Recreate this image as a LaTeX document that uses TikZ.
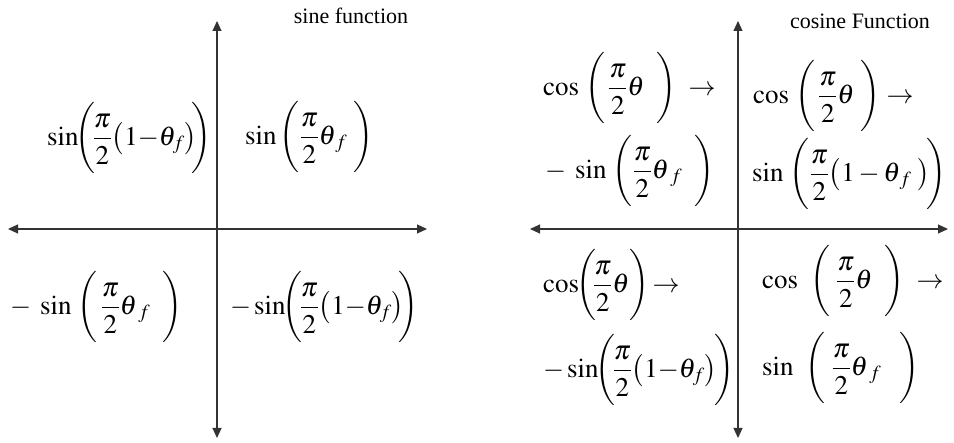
\documentclass[tikz,border=0pt]{standalone}
\usepackage{mathptmx}
\usepackage{graphicx}
\usepackage[no-math]{fontspec}
\setmainfont{Liberation Serif}
\usetikzlibrary{arrows.meta}
\newcommand\mylp{\mathopen{\scalebox{1}[1.1]{$\displaystyle\biggl($}}}
\newcommand\myrp{\mathclose{\scalebox{1}[1.1]{$\displaystyle\biggr)$}}}
\newcommand\mysl{\bigl(}
\newcommand\mysr{\bigr)}
\newcommand\mym{\mathord{-}}
\tikzset{
 axis/.style={line width=1.1pt, draw=black!80, {Triangle[length=10pt,width=9pt]}-{Triangle[length=10pt,width=9pt]}},
 fml/.style={inner sep=0pt, anchor=west, text height=32pt, text depth=19pt, font=\fontsize{27}{32}\selectfont},
 ttl/.style={inner sep=0pt, font=\fontsize{22}{26}\selectfont},
}
\begin{document}
\begin{tikzpicture}[x=1pt,y=-1pt]
\useasboundingbox (0,0) rectangle (954,443);
% left axes
\coordinate (LT) at (217,21);
\coordinate (LB) at (217,438);
\coordinate (LL) at (8,229);
\coordinate (LR) at (427,229);
\draw[axis] (LT) -- (LB);
\draw[axis] (LL) -- (LR);
% right axes
\coordinate (RT) at (738,21);
\coordinate (RB) at (738,438);
\coordinate (RL) at (530,229);
\coordinate (RR) at (948,229);
\draw[axis] (RT) -- (RB);
\draw[axis] (RL) -- (RR);
% titles
\node[ttl] (sinT) at (351,16) {sine function};
\node[ttl] (cosT) at (860,21) {cosine Function};
% sine quadrants
\node[fml] (s1) at (245,138) {$\displaystyle \sin\,\mylp\frac{\pi}{2}\theta_{\,f}\;\myrp$};
\node[fml] (s2) at (47,139) {$\displaystyle \sin\!\mylp\!\frac{\pi}{2}\mysl 1\mym\theta_f\mysr\!\!\myrp$};
\node[fml] (s3) at (10,308) {$\displaystyle -\;\sin\;\mylp\,\frac{\pi}{2}\theta_{\;f}\;\;\myrp$};
\node[fml] (s4) at (230,308) {$\displaystyle \mym\sin\!\mylp\!\frac{\pi}{2}\mysl 1\mym\theta_f\mysr\!\!\myrp$};
% cosine quadrants
\node[fml] (c2a) at (543,89) {$\displaystyle \cos\;\mylp\,\frac{\pi}{2}\theta\;\;\myrp\;\rightarrow$};
\node[fml] (c2b) at (545,172) {$\displaystyle -\;\sin\;\mylp\frac{\pi}{2}\theta_{\;f}\;\;\myrp$};
\node[fml] (c1a) at (753,97) {$\displaystyle \cos\;\mylp\,\frac{\pi}{2}\theta\;\myrp\rightarrow$};
\node[fml] (c1b) at (752,175) {$\displaystyle \sin\;\mylp\frac{\pi}{2}\mysl 1-\theta_{\,f}\;\mysr\!\myrp$};
\node[fml] (c3a) at (543,286) {$\displaystyle \cos\!\mylp\!\frac{\pi}{2}\theta\myrp\!\rightarrow$};
\node[fml] (c3b) at (543,371) {$\displaystyle \mym\sin\!\mylp\!\frac{\pi}{2}\mysl 1\mym\theta_f\mysr\!\myrp$};
\node[fml] (c4a) at (762,282) {$\displaystyle \cos\;\;\mylp\;\frac{\pi}{2}\theta\;\;\myrp\;\rightarrow$};
\node[fml] (c4b) at (762,369) {$\displaystyle \sin\;\;\mylp\;\frac{\pi}{2}\theta_{\;f}\;\;\;\myrp$};
\end{tikzpicture}
\end{document}
